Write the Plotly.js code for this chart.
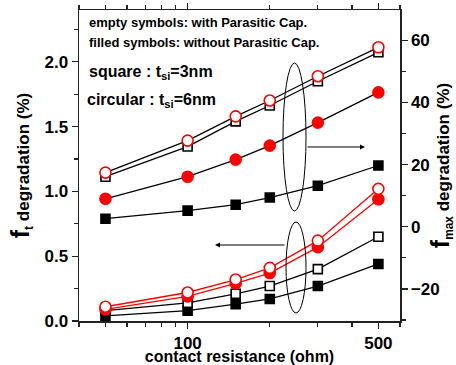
<!DOCTYPE html>
<html>
<head>
<meta charset="utf-8">
<script src="https://cdn.plot.ly/plotly-3.0.1.min.js"></script>
<style>html,body{margin:0;padding:0;background:#fff;}#chart{width:456px;height:365px;}</style>
</head>
<body>
<div id="chart"></div>
<script>
// x values: contact resistance (ohm)
const resistance = [50, 100, 150, 200, 300, 500];

// fmax degradation (%) – right axis group
const fmaxOpenCircle   = [17.4, 27.7, 35.5, 40.6, 48.4, 57.7];
const fmaxOpenSquare   = [16.1, 25.8, 33.9, 39.0, 46.8, 56.1];
const fmaxFilledCircle = [9.0, 16.1, 21.6, 26.1, 33.5, 43.2];
const fmaxFilledSquare = [2.6, 5.2, 7.1, 9.4, 13.2, 19.7];

// ft degradation (%) – left axis group
const ftOpenCircle   = [0.11, 0.22, 0.32, 0.41, 0.62, 1.02];
const ftFilledCircle = [0.09, 0.19, 0.29, 0.37, 0.57, 0.94];
const ftOpenSquare   = [0.08, 0.14, 0.21, 0.27, 0.40, 0.65];
const ftFilledSquare = [0.04, 0.08, 0.13, 0.17, 0.27, 0.44];

const xTickVals = [100, 500];
const xTickText = ['100', '500'];
const xMinorVals = [40, 50, 60, 70, 80, 90, 200, 300, 400, 600];

const FONT = 'Liberation Sans, Arial, sans-serif';
const RED = '#ff0000';
const BLK = '#000000';

function tr(y, axis, symbol, filled, color, lineColor) {
  return {
    x: resistance, y: y, yaxis: axis, type: 'scatter', mode: 'lines+markers',
    line: {color: lineColor, width: 1.3},
    marker: {
      symbol: symbol,
      size: symbol === 'circle' ? 11 : 9,
      color: filled ? color : '#ffffff',
      line: {color: color, width: 1.6}
    },
    showlegend: false, hoverinfo: 'skip'
  };
}

const data = [
  tr(fmaxFilledSquare, 'y2', 'square', true, BLK, BLK),
  tr(fmaxFilledCircle, 'y2', 'circle', true, RED, BLK),
  tr(fmaxOpenSquare, 'y2', 'square', false, BLK, BLK),
  tr(fmaxOpenCircle, 'y2', 'circle', false, RED, BLK),
  tr(ftFilledSquare, 'y', 'square', true, BLK, BLK),
  tr(ftOpenSquare, 'y', 'square', false, BLK, BLK),
  tr(ftFilledCircle, 'y', 'circle', true, RED, RED),
  tr(ftOpenCircle, 'y', 'circle', false, RED, RED)
];

const tickFont = {family: FONT, size: 17, color: '#000', weight: 'bold'};
const axisLine = {showline: true, linecolor: '#222', linewidth: 1.5, zeroline: false, showgrid: false};

const layout = {
  width: 456, height: 365,
  margin: {l: 79, r: 56, t: 10, b: 44},
  paper_bgcolor: '#fff', plot_bgcolor: '#fff',
  font: {family: FONT, color: '#000'},
  xaxis: Object.assign({}, axisLine, {
    type: 'log',
    range: [Math.log10(40), Math.log10(600)],
    tickmode: 'array', tickvals: xTickVals, ticktext: xTickText,
    ticks: 'outside', ticklen: 6, tickwidth: 1.3, tickcolor: '#222',
    mirror: 'ticks',
    minor: {tickmode: 'array', tickvals: xMinorVals, ticks: 'outside', ticklen: 4, tickwidth: 1.2, tickcolor: '#222'},
    tickfont: tickFont,
    title: {text: 'contact resistance (ohm)', font: {family: FONT, size: 16, weight: 'bold'}, standoff: 0}
  }),
  yaxis: Object.assign({}, axisLine, {
    range: [0, 2.4],
    tickmode: 'linear', tick0: 0, dtick: 0.5, tickformat: '.1f',
    ticks: 'outside', ticklen: 6, tickwidth: 1.3, tickcolor: '#222',
    minor: {dtick: 0.25, ticks: 'outside', ticklen: 4, tickwidth: 1.2, tickcolor: '#222'},
    tickfont: tickFont,
    title: {text: '<span style="font-size:25px">f</span><sub>t</sub> degradation (%)', font: {family: FONT, size: 17, weight: 'bold'}, standoff: 10}
  }),
  yaxis2: Object.assign({}, axisLine, {
    overlaying: 'y', side: 'right',
    range: [-30.3, 69.7],
    tickmode: 'linear', tick0: 0, dtick: 20,
    ticks: 'outside', ticklen: 6, tickwidth: 1.3, tickcolor: '#222',
    minor: {dtick: 10, ticks: 'outside', ticklen: 4, tickwidth: 1.2, tickcolor: '#222'},
    tickfont: tickFont,
    title: {text: '<span style="font-size:25px">f</span><sub>max</sub> degradation (%)', font: {family: FONT, size: 17, weight: 'bold'}, standoff: 10}
  }),
  shapes: [
    {type: 'circle', xref: 'paper', yref: 'paper', x0: 0.6355, x1: 0.7072, y0: 0.3537, y1: 0.8296, line: {color: '#000', width: 1}},
    {type: 'circle', xref: 'paper', yref: 'paper', x0: 0.6449, x1: 0.7072, y0: 0.0257, y1: 0.3183, line: {color: '#000', width: 1}}
  ],
  annotations: [
    {xref: 'paper', yref: 'paper', x: 0.891, y: 0.5595, ax: -59, ay: 0, showarrow: true, arrowhead: 2, arrowsize: 1, arrowwidth: 1, arrowcolor: '#000', text: ''},
    {xref: 'paper', yref: 'paper', x: 0.4237, y: 0.2444, ax: 71, ay: 0, showarrow: true, arrowhead: 2, arrowsize: 1, arrowwidth: 1, arrowcolor: '#000', text: ''},
    {xref: 'paper', yref: 'paper', x: 0.025, y: 0.961, xanchor: 'left', yanchor: 'middle', showarrow: false,
     text: 'empty symbols: with Parasitic Cap.', font: {family: FONT, size: 13, weight: 'bold', color: '#000'}},
    {xref: 'paper', yref: 'paper', x: 0.025, y: 0.897, xanchor: 'left', yanchor: 'middle', showarrow: false,
     text: 'filled symbols: without Parasitic Cap.', font: {family: FONT, size: 13, weight: 'bold', color: '#000'}},
    {xref: 'paper', yref: 'paper', x: 0.025, y: 0.80, xanchor: 'left', yanchor: 'middle', showarrow: false,
     text: 'square : t<sub>si</sub>=3nm', font: {family: FONT, size: 16, weight: 'bold', color: '#000'}},
    {xref: 'paper', yref: 'paper', x: 0.02, y: 0.71, xanchor: 'left', yanchor: 'middle', showarrow: false,
     text: 'circular : t<sub>si</sub>=6nm', font: {family: FONT, size: 16, weight: 'bold', color: '#000'}}
  ]
};

Plotly.newPlot('chart', data, layout, {displayModeBar: false, staticPlot: true});
</script>
</body>
</html>
